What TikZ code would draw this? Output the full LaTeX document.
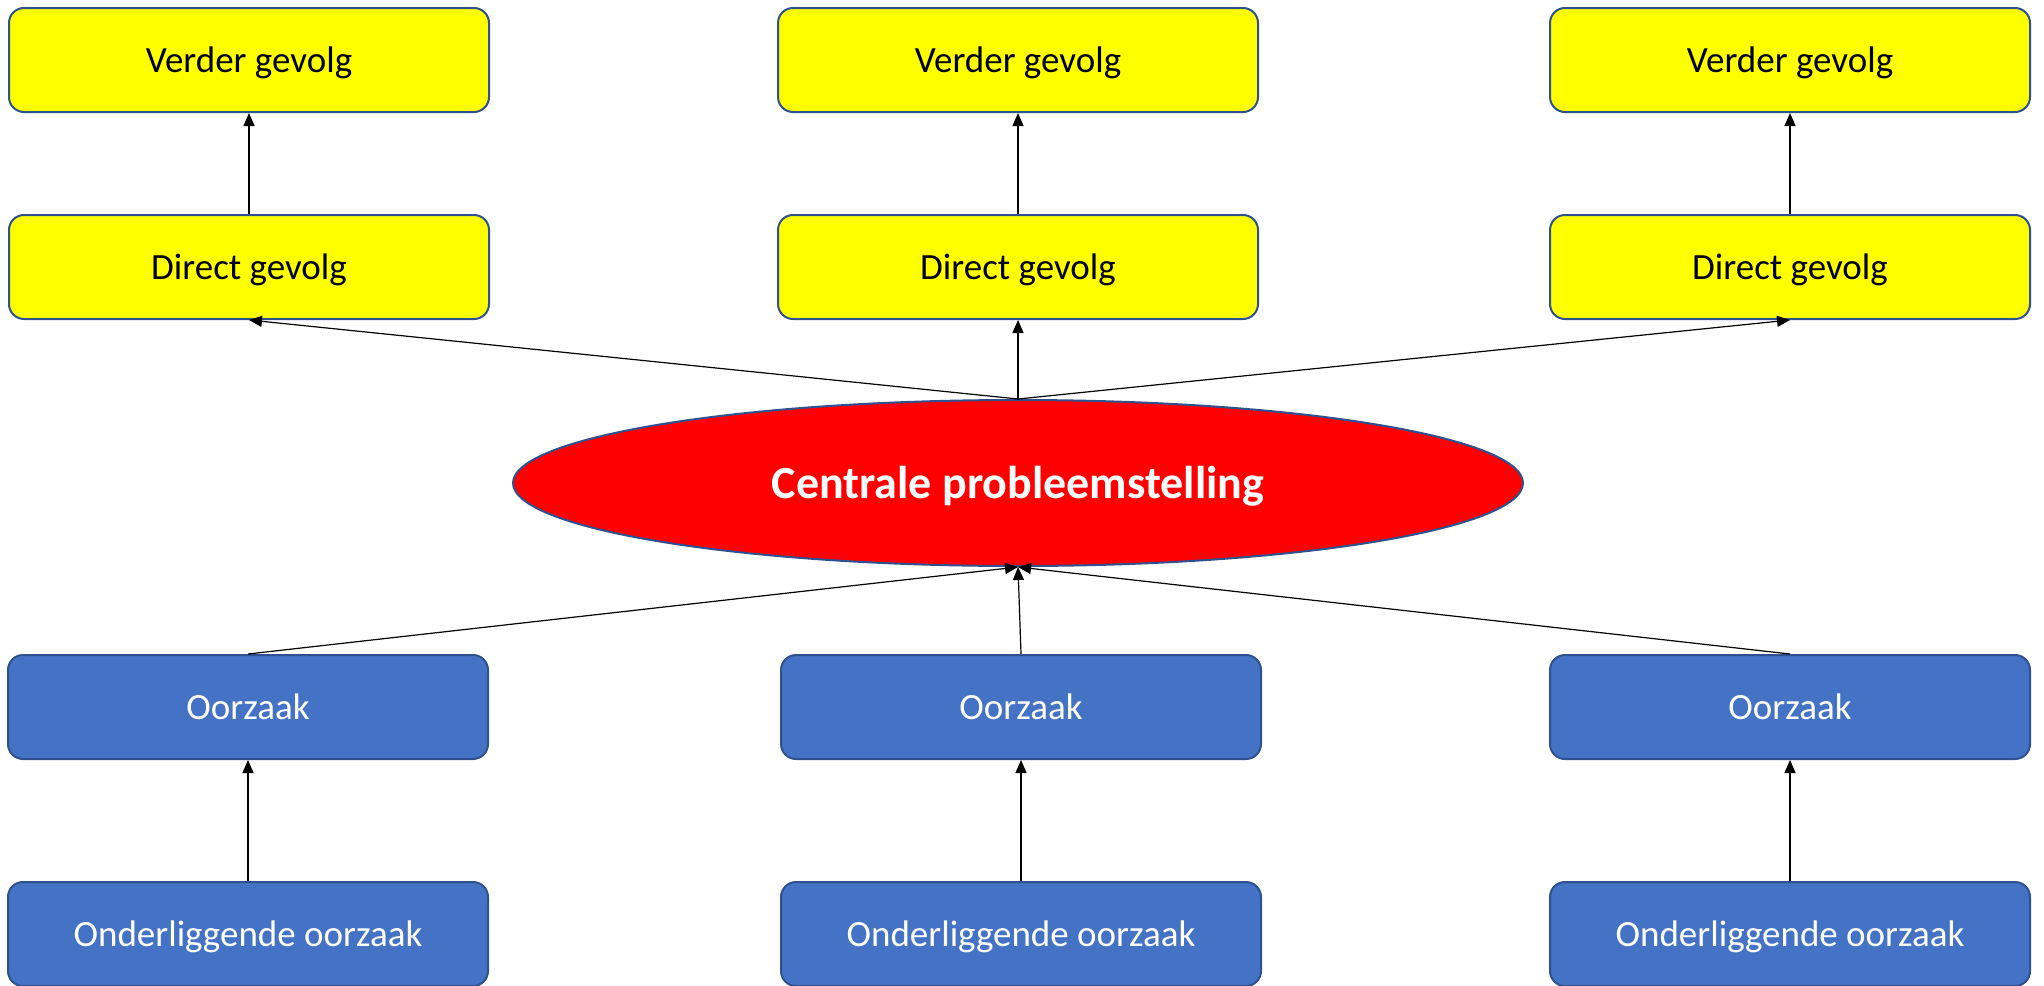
\documentclass[tikz,border=0pt]{standalone}
\usepackage{fontspec}
\setmainfont{Carlito}
\definecolor{colorGevolg}{HTML}{FFFF00}
\definecolor{colorOorzaak}{HTML}{4472C4}
\definecolor{colorProbleem}{HTML}{FF0000}
\definecolor{colorRand}{HTML}{2F528F}
\usetikzlibrary{shapes.geometric,arrows.meta}
\tikzset{
  gevolg box/.style={
    draw=colorRand,fill=colorGevolg,line width=2pt,rounded corners=15pt,
    minimum width=480pt,minimum height=104pt,font=\fontsize{37}{44}\selectfont,
    text height=30pt,text depth=6pt,
  },
  oorzaak box/.style={gevolg box,fill=colorOorzaak,text=white},
  probleem/.style={
    ellipse,draw=colorRand,fill=colorProbleem,line width=2pt,inner sep=0pt,
    minimum width=1010pt,minimum height=166pt,text=white,
    font=\fontsize{46}{54}\selectfont\bfseries,text height=36pt,text depth=6pt,
  },
  pijl/.style={-{Triangle[length=13pt,width=11pt]},line width=1.2pt},
}

\begin{document}
\begin{tikzpicture}[x=1pt,y=1pt]
   \useasboundingbox (0,0) rectangle (2044,-985);

   % NODES
   \node[gevolg box] (v0) at (249.0,  -60.0) {Verder gevolg}; % verder
   \node[gevolg box] (v1) at (1018.0, -60.0) {Verder gevolg}; % verder
   \node[gevolg box] (v2) at (1790.0, -60.0) {Verder gevolg}; % verder
   \node[gevolg box] (d0) at (249.0,  -267.0) {Direct gevolg}; % direct
   \node[gevolg box] (d1) at (1018.0, -267.0) {Direct gevolg}; % direct
   \node[gevolg box] (d2) at (1790.0, -267.0) {Direct gevolg}; % direct

   \node[probleem] (c) at (1018.0, -483.0) {Centrale probleemstelling}; % centraal

   \node[oorzaak box] (o0) at (248.0,  -707.0) {Oorzaak}; % oorzaak
   \node[oorzaak box] (o1) at (1021.0, -707.0) {Oorzaak}; % oorzaak
   \node[oorzaak box] (o2) at (1790.0, -707.0) {Oorzaak}; % oorzaak
   \node[oorzaak box] (u0) at (248.0,  -934.0) {Onderliggende oorzaak}; % onderliggend
   \node[oorzaak box] (u1) at (1021.0, -934.0) {Onderliggende oorzaak}; % onderliggend
   \node[oorzaak box] (u2) at (1790.0, -934.0) {Onderliggende oorzaak}; % onderliggend

   % DRAW GEVOLGEN
   \draw[pijl] (d0.north)--(v0.south);
   \draw[pijl] (d1.north)--(v1.south);
   \draw[pijl] (d2.north)--(v2.south);
   \draw[pijl] (c.north)--(d0.south);
   \draw[pijl] (c.north)--(d1.south);
   \draw[pijl] (c.north)--(d2.south);

   % DRAW OORZAKEN
   \draw[pijl] (o0.north)--(c.south);
   \draw[pijl] (o1.north)--(c.south);
   \draw[pijl] (o2.north)--(c.south);
   \draw[pijl] (u0.north)--(o0.south);
   \draw[pijl] (u1.north)--(o1.south);
   \draw[pijl] (u2.north)--(o2.south);

\end{tikzpicture}
\end{document}
